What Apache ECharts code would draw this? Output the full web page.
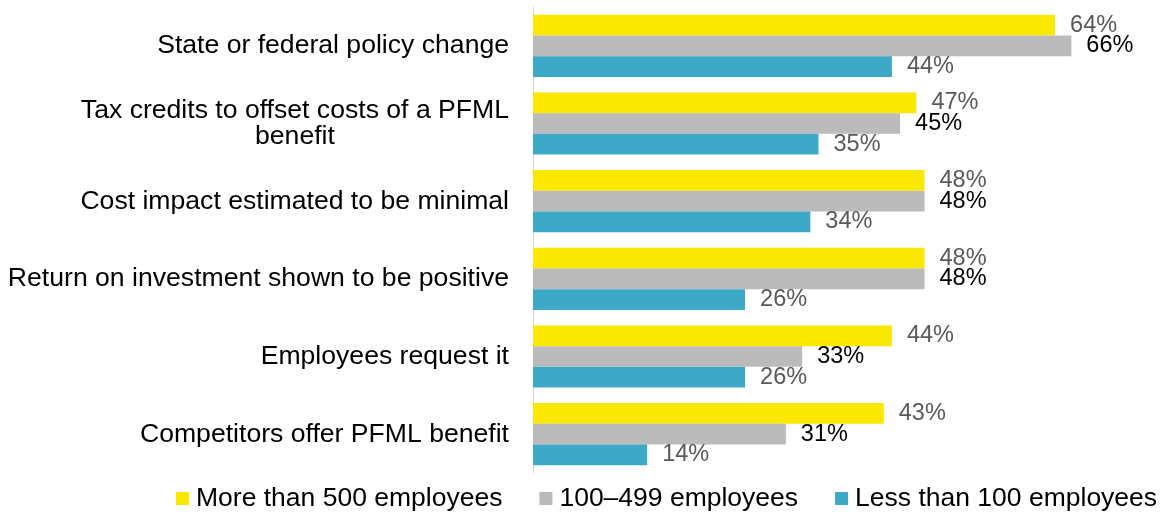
<!DOCTYPE html>
<html>
<head>
<meta charset="utf-8">
<script src="https://cdn.jsdelivr.net/npm/echarts@6/dist/echarts.min.js"></script>
<style>
  html, body { margin: 0; padding: 0; background: #fff; }
  #chart { width: 1164px; height: 513px; }
</style>
</head>
<body>
<div id="chart"></div>
<script>
// reasons, top to bottom
var categories = [
  'State or federal policy change',
  'Tax credits to offset costs of a PFML\nbenefit',
  'Cost impact estimated to be minimal',
  'Return on investment shown to be positive',
  'Employees request it',
  'Competitors offer PFML benefit'
]
var seriesNames = ['More than 500 employees', '100\u2013499 employees', 'Less than 100 employees']
var large = [64, 47, 48, 48, 44, 43]
var medium = [66, 45, 48, 48, 33, 31]
var small = [44, 35, 34, 26, 26, 14]

var colors = ['#fae800', '#bbbbbb', '#3ea9c6']
var labelColors = ['#595959', '#000000', '#595959']
var font = 'Liberation Sans, Arial, sans-serif'

function makeSeries(i, data) {
  return {
    name: seriesNames[i],
    type: 'bar',
    data: data,
    barGap: '0%',
    barCategoryGap: '20%',
    itemStyle: { color: colors[i] },
    label: {
      show: true,
      position: 'right',
      distance: 15,
      formatter: '{c}%',
      color: labelColors[i],
      fontFamily: font,
      fontSize: 23.5
    }
  }
}

var myChart = echarts.init(document.getElementById('chart'))
var option = {
  animation: false,
  color: colors,
  grid: {
    left: 533,
    right: 60,
    top: 7,
    height: 466,
    containLabel: false
  },
  xAxis: {
    type: 'value',
    min: 0,
    max: 70,
    show: false
  },
  yAxis: {
    type: 'category',
    inverse: true,
    data: categories,
    axisLine: { show: true, lineStyle: { color: '#d9d9d9', width: 1 } },
    axisTick: { show: false },
    axisLabel: {
      margin: 24,
      color: '#000',
      fontFamily: font,
      fontSize: 26.6,
      // wrapped lines are centred on each other, block stays right aligned
      formatter: function (v) {
        return v.split('\n').map(function (l) { return '{c|' + l + '}' }).join('\n')
      },
      rich: {
        c: { align: 'center', fontFamily: font, fontSize: 26.6, lineHeight: 26, color: '#000' }
      }
    }
  },
  legend: {
    top: 480,
    left: 171,
    icon: 'rect',
    itemWidth: 13,
    itemHeight: 13,
    itemGap: 37,
    textStyle: { fontFamily: font, fontSize: 26.5, color: '#000', padding: [0, 0, 0, 2] },
    data: seriesNames
  },
  series: [
    makeSeries(0, large),
    makeSeries(1, medium),
    makeSeries(2, small)
  ]
}
myChart.setOption(option)
</script>
</body>
</html>
